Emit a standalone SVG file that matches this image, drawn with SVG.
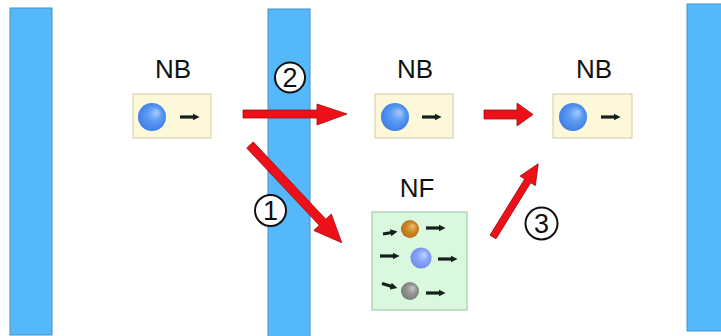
<svg xmlns="http://www.w3.org/2000/svg" width="721" height="336" viewBox="0 0 721 336">
  <style>
    .bar { fill: #55b8fb; stroke: #4a8fc4; stroke-width: 1; }
    .nb { fill: #fcf8d9; stroke: #d9d3b0; stroke-width: 1.2; }
    .nf { fill: #d9f8de; stroke: #a8c8ac; stroke-width: 1.2; }
    .label { font-family: "Liberation Sans", Arial, sans-serif; font-size: 26px; fill: #111; text-anchor: middle; }
    .num { font-family: "Liberation Sans", Arial, sans-serif; font-size: 27px; fill: #111; text-anchor: middle; }
    .ring { fill: #fff; stroke: #111; stroke-width: 2; }
    .flow { fill: #ee1018; stroke: #a01010; stroke-width: 0.8; }
    .small { stroke: #15201c; stroke-width: 3.2; fill: none; marker-end: url(#tip); }
  </style>
  <defs>
    <marker id="tip" viewBox="0 0 10 10" refX="2" refY="5" markerUnits="userSpaceOnUse" markerWidth="7" markerHeight="8" orient="auto">
      <path d="M0,0 L10,5 L0,10 Z" fill="#15201c"/>
    </marker>
    <radialGradient id="gBlue" cx="0.5" cy="0.5" r="0.55" fx="0.68" fy="0.32">
      <stop offset="0" stop-color="#a9ccff"/>
      <stop offset="0.45" stop-color="#5d9cf2"/>
      <stop offset="1" stop-color="#3d7be6"/>
    </radialGradient>
    <radialGradient id="gViolet" cx="0.5" cy="0.5" r="0.55" fx="0.68" fy="0.32">
      <stop offset="0" stop-color="#c4d4ff"/>
      <stop offset="0.45" stop-color="#8ea8fb"/>
      <stop offset="1" stop-color="#6c88ee"/>
    </radialGradient>
    <radialGradient id="gOrange" cx="0.5" cy="0.5" r="0.55" fx="0.68" fy="0.32">
      <stop offset="0" stop-color="#eec079"/>
      <stop offset="0.45" stop-color="#d38c2c"/>
      <stop offset="1" stop-color="#b06d18"/>
    </radialGradient>
    <radialGradient id="gGray" cx="0.5" cy="0.5" r="0.55" fx="0.68" fy="0.32">
      <stop offset="0" stop-color="#c8c8c8"/>
      <stop offset="0.45" stop-color="#989898"/>
      <stop offset="1" stop-color="#767676"/>
    </radialGradient>
  </defs>

  <!-- membranes -->
  <g id="membranes">
    <rect class="bar" x="10" y="8" width="42" height="327"/>
    <rect class="bar" x="268" y="9" width="42" height="330"/>
    <rect class="bar" x="687" y="4" width="40" height="327"/>
  </g>

  <!-- nodes -->
  <g id="nb-left">
    <text class="label" x="173" y="78">NB</text>
    <rect class="nb" x="133" y="94" width="78" height="44"/>
    <circle cx="152" cy="117" r="14" fill="url(#gBlue)"/>
    <line class="small" x1="180" y1="117" x2="194" y2="117"/>
  </g>

  <g id="nb-middle">
    <text class="label" x="415" y="78">NB</text>
    <rect class="nb" x="375" y="94" width="78" height="44"/>
    <circle cx="395" cy="117" r="14" fill="url(#gBlue)"/>
    <line class="small" x1="422" y1="117" x2="436" y2="117"/>
  </g>

  <g id="nb-right">
    <text class="label" x="594" y="78">NB</text>
    <rect class="nb" x="553" y="94" width="79" height="44"/>
    <circle cx="573" cy="117" r="14" fill="url(#gBlue)"/>
    <line class="small" x1="601" y1="117" x2="615" y2="117"/>
  </g>

  <g id="nf">
    <text class="label" x="417" y="197">NF</text>
    <rect class="nf" x="372" y="212" width="95" height="98"/>
    <circle cx="410" cy="229" r="9" fill="url(#gOrange)"/>
    <circle cx="421" cy="258" r="10.5" fill="url(#gViolet)"/>
    <circle cx="410" cy="291" r="9" fill="url(#gGray)"/>
    <line class="small" x1="383" y1="234" x2="392" y2="232.5"/>
    <line class="small" x1="426" y1="228" x2="440" y2="228"/>
    <line class="small" x1="380" y1="256" x2="394" y2="256"/>
    <line class="small" x1="438" y1="259" x2="452" y2="259"/>
    <line class="small" x1="382" y1="283.5" x2="392" y2="286.5"/>
    <line class="small" x1="426" y1="293" x2="440" y2="293"/>
  </g>

  <!-- transport arrows -->
  <g id="connectors">
    <!-- route 2: straight across -->
    <polygon class="flow" points="243,110 317,110 317,104 347,114 317,125 317,118 243,118"/>
    <!-- NB to NB -->
    <polygon class="flow" points="484,110 517,110 517,103 533,114.5 517,126 517,119 484,119"/>
    <!-- route 1: down into NF -->
    <polygon class="flow" transform="translate(250,145) rotate(46.8)" points="0,-4.5 106,-4.5 106,-12 134,0 106,12 106,4.5 0,4.5"/>
    <!-- route 3: up out of NF -->
    <polygon class="flow" transform="translate(493,237) rotate(-58.3)" points="0,-3.5 66,-3.5 66,-9 86,0 66,9 66,3.5 0,3.5"/>
  </g>

  <!-- route numbers -->
  <g id="numbers">
    <circle class="ring" cx="270.5" cy="210.5" r="15.5"/>
    <text class="num" x="270.5" y="220">1</text>
    <circle class="ring" cx="290" cy="77.5" r="15"/>
    <text class="num" x="290" y="87">2</text>
    <circle class="ring" cx="541.5" cy="223.5" r="16"/>
    <text class="num" x="541.5" y="233">3</text>
  </g>
</svg>
